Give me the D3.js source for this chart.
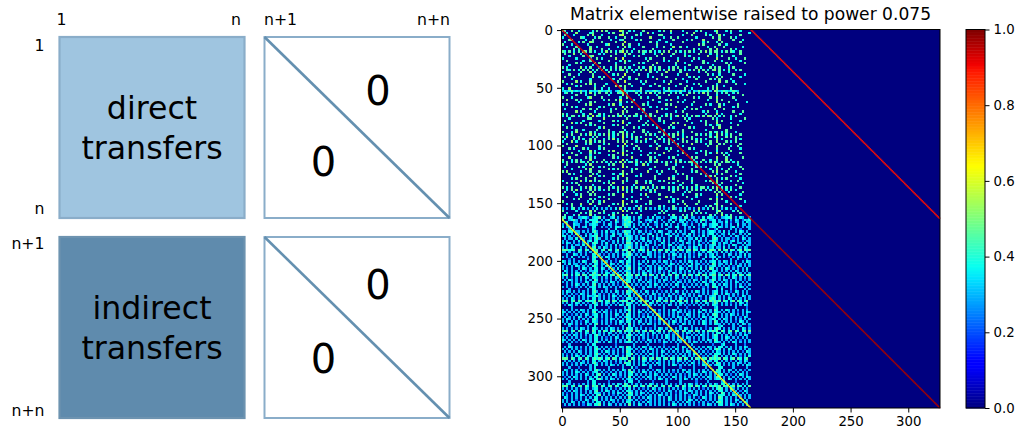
<!DOCTYPE html>
<html><head><meta charset="utf-8">
<script src="https://cdn.jsdelivr.net/npm/d3@7"></script>
<style>html,body{margin:0;padding:0;background:#fff}svg{display:block}text{font-family:"DejaVu Sans";fill:#000}</style>
</head><body><svg id="c" width="1019" height="432"></svg>
<script>
const title = "Matrix elementwise raised to power 0.075";
const matrixTicks = [0,50,100,150,200,250,300];
const colorTicks = [0,0.2,0.4,0.6,0.8,1];
const matrixSize = 328;
const blockUnit = 2;
const panelTop = [["1","n"],["n+1","n+n"]];
const panelLeftTop = ["1","n"];
const panelLeftBottom = ["n+1","n+n"];
const panelWords = [["direct","transfers"],["indirect","transfers"]];
const diagRowStart = [0,0,164,164];
const diagColStart = [0,164,0,164];
const diagLevel = [0.93,0.9,0.63,0.97];
const diagLength = 164;
const digitLevels = {2:0.24,3:0.31,4:0.38,5:0.46,6:0.52,7:0.57};
const jetStops = [[0,"#00007f"],[0.11,"#0000ff"],[0.125,"#0000ff"],[0.34,"#00e0ff"],[0.375,"#08fff0"],[0.64,"#ffff00"],[0.66,"#ffee00"],[0.89,"#ff1800"],[0.91,"#f00000"],[1,"#7f0000"]];
// Each character is one 2x2 matrix patch, read by eye: "." is zero, a digit is a colour step.
const directRows = [
"45..5..4.....4.5.6.5.....75..4.4...5......4.5..6....4.....4.5.....46...4.5...4....",
"..4...6.....45......4.5...5.5.....4..6.4.......4......5..6....4....5.....4.......4",
".5...4.....5.6...4.......67.....5.4.......55........4...5.....5.4...6.4......5....",
"4.......54....4.5...5..4...5..4.......6.....4..5..5.......4......5..5....5.4......",
"...56.....4..5.......4...45.....4.5.......4.....5.....4.5....6......6.....5...4...",
".4.....4.5..65...5.....5...7..........5..4...4......5........4.5...4.5.......5....",
"5...4......4.......46.....6..5...4.......5.....4...........6.5......5..4..........",
"..4...5.....5..4........4..6.4.....5.....4..5...6..5..4........4..5...5.......4...",
".....5.4....6....5..4.....5....4.......5.......4.........5.4....5..6.....5.4......",
"54.5.4.5.65.5.4..4.6.5.4.57.5.4..5.54.5.4.4.5.6..5.4.5.5.4..5.6.5.55.4.5.54..5....",
".5...6..4.......4.4....5...6.5.....4....4..6....5....4.....5....4..5.........5....",
"...4.....5..56.......5.....4...4.5.......5.....4.....5.4.......6...4.5....4.......",
"4.....4.....4..5.4.....6..7.........4.5.....5.....4......5.4.......6....5..4...5..",
"..5......4..5.......5....4.6.4.......5......4.4...6.....4....5....5..4.......4....",
"......5.4.....6.5......4...5.....5.4.....6.......5...4.......5.4.......5.4.....5..",
"...4.........4.........5.......4.......5.........4.....5.........4......5.........",
"5.4.....6.4.5...4.5..4.5.5.5.4...5.4..6.4.5...4.5.5..4....5.4...5.5.5...4.5.......",
"..54.5.4.5.5.4.5.6.4.5.4.56.4.5.4.5.6.5.4.5.4.6.5..5.4.4.5.6.5.4.56.5.4.5..4.5....",
"4.......5...6.4.....5.......5..4......5..4...6.....5.......4..5.....5...4.........",
"...5...4.....5........4.5..7.....5...4.....5......4...6........5.4..4.....5....4..",
".5...5.......6..4.5.......6..5.......4.4.....5.........4.5.4.......6.5.......4....",
"....4.......4....5....4..5...4..5........6.......5..4.....5.....5.4.5....4........",
"5.....6.4...5...........5..7......4.5.......4..5......4.......5.....6..5..4.......",
"..4.5.....5.6.5....4.........5.....4....5.....6....5.....4.5.......4.......5...4..",
"......4.5.....4...5....6.5.6..4.......4...5......4....5.....4....5.5..4...........",
"4..6..........5..4..4......5......5.........4.5......5..4......4.5.6.....5........",
"34345343534.4343543453.345743445345.3434543.3454343534.3.43534453.65345434543.....",
".45.4...5.4.6.4.5..5.4..546.4...5.4.5.6.4.5.5..4.5.4...5.5.4.6.5...5.4.5..4.5.....",
"......5...4...5.....4.....6.5....4.......4....5.....4.6........5...4....4.....5...",
"5...4......46....5.......4..5.....5..4....5.......4......5.4....5..6......5.......",
"..6...5.4.........4.5..5.7.....4.......5.....4.6.....4.........4...5.5.....4......",
".......4....5.5..........5..4.5......4....4.......5.4....5.........6....5.......4.",
"4.5.......5.6.......4.6..4.........5.4.......5.5........4.....5.4...5.4.....5.....",
"....5.4.........4.5.......7.5.6.......4..4.......6....5.....4.......6.....4.5.....",
".4.......5..5..5.....4.5...5.....4.5.......5.4.......4..5.5.......5...5...........",
"......6.4.....4......5....6.5......4.....6.......4..5........4.5...4......5...5...",
"5.4......4..6...5.4.....5.5.....5...4.5......4.5......5.......4....6.4.......4....",
"4.5.55.4.5.4.7.54.4.5.5.46.4.5.54.5.4.5.5..4.5.5.46.5.4.5.54.5.65.5.4.5..4.5......",
"...4.......55.....6.........5.....4.......5....4.....5.4.........5.4.....4.....5..",
".5.......4......4.....5.4.6......5...4....4.5.........5.....4.5....5.5.......4....",
"....6.4.5...5.....5.......7..4......5.......4...6.5.....4.....5....6.....4........",
"4.........5.4.5.......4.5...5......4.5.4.......5.....6........5.4..45.......5.....",
"..5.4...........4.6.......5....5.4.......4....5.4......5.4.......5..6....5........",
"......5..4.....5....5......4.......5........4.......5.........4........5.........",
"5...4.6.....5.4.....5.4..56.4..5...5.4....5.4.....4.5...5.......5.45.4.5...4......",
"..4.5...5.4.6.5.4.5.6.4.5.6.5.4.....5.5.4...5.4.5.6.4.....5.4.5.4..6.5.4.5...5....",
"5.6..4.5.....4.5....5.4...7.4.5.5.4......5.4....5...4.5.5.......5.46...5.5.5......",
".4...5.5.4..5.5...4.5.6.4.6...4.5...6.4...5.4.5...4.6...5.4.5.4....5.4.....5.4....",
"4...6.4...5.6.4.5.5.....5.6.5...4.5.4...5...4.5.4...5.5...5.4...5..6...5.4.5......",
"..5.......4.5.....4.5......7..5..........4....5...4.....6.....4.5...5.5......5....",
"5.....6.........5.......4.6.4...5.....4...5.......5.4..........5...6.....4..5.....",
"...5.4...5.4....4.5.......5....4.5.......6...4.5.......5.4.........5....5....4....",
".......4....6.4.....5.6...5.5.....4...........5...4.5.......4.5....4.....5........",
"..4.5...4...5.5.4.......5.7...4.......4.5...6.......5.....4...5.4..6.5.4.....5....",
"4.....5.....4.......4.5...6.5.....4..5....4.......4...6.......5.......5.4.........",
"...6......5.5.4.......5.4.....6.......5.4.....4.5.......5.5........6...5......5...",
"5...4.5.4...6.....5.......7.4...4.....5..6.......5.4.....4...5..4..5...6.4........",
"4.5.4.5.54.5.4.5.5.4.5.4.6.5.45.5.4.5.4.55.4.5.4.6.5.4.55.4.5.4.5.64.5.55.4.5.....",
"..5.......4.6.......4.5...6.....4..6.4.......5...4......4.5.......5.5.......4.....",
".4.....5.4...5..4.5.......7.5...........5.......5...4.....5.4.5....6.....4...5....",
"....4.....5.6.......5.4.5.....4.5.....4.......4.5.......5.......4..5.4..5.....5...",
"5.6.....4...5...5.........6...5......6...4.5.....5......4.5......5.6...5...4......",
"...5.4.......5.4......4..46.5.....4.......4.......4.5.......5.4....4.5.......5....",
"........5...6...4.5.....5.7.....4.5.....5.......4.....5.......4.5.6......5.4......",
"....4.5...5...5.......4.5...5...........5.....6.5.....5.4..........5.4.5.....4....",
"4.......6.4.6.4.5...4.....6.4...5...4.5...4.5.....5.....5.....4.5..6.....4..5.....",
"..5.4.5...........4.5.6...5.....6...5.4.......5.4...5...4........5.5.5........4...",
".......5.....4.......5.........4.......5...........4......5.........4......5......",
"5.4.5...4.5.6.4.5...5.4.5.7.5.4.5.46.5.4.5.54.5.4.5.5.4.5.4.55.4.5.6.4.5.4...5....",
"..4.5.6.4...5.5.4.4.5...5.6.4.5...5.4.4.6.....5.4.5...4.5.5.4.5.4..6.5.4.5.4......",
".5...4.....5.6..........4...5.4.......5.4.......5....4.5..........5.5...4.....5...",
"4.....4.5...5.5.....4.5...7.......4.6.....5.........4.....5.4......6.5.......4....",
"..5.....6.......4.5.......6...4......4.......6.4......5...4........4.....5.4......",
".....4.5....5.4.....5.......4.....5.......5.....4.5.....4.......5..6.5.......5....",
"5..........4.5..4.6.......7...5.4.....5.......5.4...5......5.......5...4.......4..",
"..4.5...6...6...5.....4.5.6.5.......4.5...........4..6....5.......46.....5........",
"....5...4.....4.....5.....6.....4.5.......5.4...5.....5.......4.5..5.5.......4....",
"3.3.45.3.4.3.3.4.3.3.3.4.6.3.4.3.63.5.3.3.4.3.3.53.3.4.3.3.6.3.4.5.5.3.4.3.3......",
"5.....4.....6.5...5.......7.5.....4........5.4.....4.5...5.4.......46.....4.5.....",
"..4.....5.4.5...5.4...4.5.....5.4.........4.5...........5.4.5.4....5.5.......5....",
".5...4.5....6.4.....4.5...6.4.....5.....4.....4.5...5.4.5.......5.4..6.4.5........",
"..........4..........5.................4.............5...................5...4.....",
"....5.......4..........5.........4.........5.........4.......5...........4.....4.."
];
const indirectRows = [
"54.43..334.2.3445.3..34.3.4454.3.43..3.4.33.2..344.3..4.33.2.4.443.2.3344..3.43..3",
"4..3453.3.3..444.3.34...2.3544.3.3..3342.3.3..34.3.43..3.33.4.3.344.3..3.3.43.2.34",
".34..33.2.43.4453.3..3.43.34453..34.2.3.43..3.3.4..34.3.2.3.4.3..44.33.4.2.33.3.43",
"3.3..433..3.3443..3.43.3..3544.3.3.3.4..23.3.4.3..3.342.3..3.43.3444.3.3.3..4.33.3",
"4.33.4.3.34..44..3.2.3.443.453.4..3.3.3..4.3..33.44..3.3.4.2.3..344.43.3.34.3.3.33",
"...3.3.....2.43.....3..4......3.3...2..4.....3....3..3.2...3...4..24.....3.3.2...3",
"33.44.33.3.3.453.3.4.33.3.3544.3.43.3.2.3.43..33.4.3.3..43.3.3.3443.3.4.3..3.43.3.",
"3.3.3.43..3.3.44.3.3..4.33.453.3.2.3.34..3.3.43.3.3.33.4.3.2.3.344.3.33.4.3..3.3.4",
"44.3.2..3.4.3445.3.3.34..3.3443.3.3..3.4.3.3..34.33.2.43.3.3.4.3.44.3.3..3.43.3.3.",
".3.33.4.33..3.453..3.3..3.4.543.3.34.3.2.43.3.3..4.3.3.33.4.3.3..454.3.33.2.3.43.3",
"3.3..3.4.3.34.44.33.2.3.4.3.44.3.3.3.43.3.3.4.3..3.43..3.3.43.3.3443.3.3.34.3.2.33",
"3.43.3.2.3.3.454.3.4..3.3.3.553.4.3.3.3.3..43.3.3.2.3.43.3.3.2.3.54.3.43.3..33.4.3",
"..3.3.33.4.3.34..3.3.3.4.3.3443.3.3.43..3.3.3.44.3.33..2.3.43.3.344.3.3.3.43..3.33",
"3.3.43..3.3..45.3.43.3.3.2.3453.3.43.3.3.2..3.3.3.43.3.3.43.3.3.34.33.4.3..3.3.43.",
"555445.54.54.545.45.54.45.545.54.454.5.45.54.54.45.54.45.54.454.554.5.45.54.45.545",
"33.3.2.43.3.3.45.3.3.2.43.3.45.3.3.3.43.3.3..4.33.3.2.43.3.3.3.44.33.4.3.3.2.43.3",
"..3..43.3.3..44.3.2.3.3.3.43453.3.3..43.3.2.3.3.43.3.3.3.2.43.3.34.3..3.43.3.3.4.3",
"3.3.4..3.3.2.453.3.43.3.3.3.54.3.3.43.3.3.3.4.2.3.33.4.3.3.3..4.344.3.3.2.3.43.3.3",
"...2.3.....3.44.....3..2...3.4.3....3.....2...3.3....3.2.....3...3.4.....3..3...2.",
"43.3.3.3.43..454.3.3.3.2.43.44.3.3.3.4.33.3.43.3.2.3.3.43.3.3.3.344.3.43.3.3..3.43",
".3.4.33.2.3.3.44.33..43.3.3.53.3.43.3..3.3.2.3.43.3.3.3.4.33.2.3.54.33.3.4.3.3.3.3",
"3.2.3.43.3.3.453.3.4.3.3.3.344.3.3.2.43.3.3.3.43.3.3.2.43.3.3.3.344.3.3.3.2.43.3.3",
"3.3.3..3.43.3.44.43.3.3.4.3.45.3.43.3.3.3.43.3.3.3.43.3.3.3.4.3.54.3.3.43.3.3.3.4.",
".43.3.3.3.2.3344.3.3.3.2.3.343.3.3.3.43.3.3.2.43.3.3.3.4.3.3.3.3.443.3.3.3.43.3.3.",
"3.3.3.43.3.3.453.3.43.3.3.3.54.3.3.43.3.2.3.3.3.43.3.3.2.3.43.3.344.3.2.3.3.43.3.3",
"455.4.45.54.45445.54.45.54.4545.54.45.54.4.54.45.54.45.54.45.54.455.45.54.45.54.45",
"3.3.2.3.3.43.443.3.3.3.43.3.443.3.3.3.2.43.3.3.3.43.3.3.3.2.3.43.44.3.3.3.43.3.3.3",
".3.43.3.3.3.3.54.3.2.3.3.3.354.3.43.3.3.3.3.43.3.3.2.3.3.43.3.3.354.3.43.3.3.3.2.3",
"3.3.3.3.2.43.443.3.3.43.3.3.44.3.3.3.43.3.3.3.2.3.43.3.3.3.3.43.34.3.3.3.3.43.3.3.",
"..3.3.43.3.3.45.3.3.3.3.2.3.4.3.3.3.3.3.43.3.3.3.43.3.2.3.3.3.43.44.3.43.3.3.3.2.3",
"3.3.2.3.3.3.344.3.43.3.3.3.443.3.2.3.43.3.3.3.2.3.3.43.3.3.3.2.3.544.3.3.3.3.43.3.",
"...3...2...3.44....3...3.....3.4...3......2....3.....3.......3.2...3.4...3.2...3.3",
"3.43.3.3.3.3.453.3.3.3.43.3.543.3.3.43.3.3.2.3.3.43.3.3.3.43.3.3.344.3.3.2.43.3.3.",
"3.3.3.2.43.3.44.3.2.3.3.3.3.44.3.3.3.3.43.3.3.3.3.2.43.3.3.2.3.3.354.3.43.3.3.3.3.",
".3.3.3.3.3.433453.3.3.43.3.3.5.3.43.3.3.3.2.3.43.3.3.3.3.3.43.3.344.3.3.3.3.2.43.3",
"3.3.43.3.3.3.44.3.3.3.3.3.2.443.3.3.2.3.3.43.3.3.3.43.3.3.3.2.3.454.3.3.43.3.3.3.3",
"555.45.54.45445.54.45.54.4545.54.45.54.4.54.45.54.45.54.4.54.45.54545.54.45.54.45.",
"3.3.3.43.3.2.453.3.43.3.3.3.443.3.3.3.43.3.3.2.3.3.43.3.3.3.3.43.354.3.3.2.3.43.3.",
".2.43.3.3.3.3.44.3.3.3.3.43.54.3.3.43.3.3.3.3.43.3.3.3.2.3.3.3.3.443.3.3.3.3.3.43.",
"....3.......3.4.....2......3.4.3.....2......3.....3...2.....3.....34.......3....2.",
"3.3.3.3.43.3.443.3.3.2.3.3.345.3.3.3.3.43.3.3.3.43.3.3.2.3.3.43.3.54.3.43.3.3.3.3.",
"43.3.3.3.3.3.45.3.43.3.3.3.3.4.3.43.3.3.3.2.3.3.3.43.3.3.3.43.3.3.443.3.3.3.2.3.43",
"3.3.2.3.3.43.344.3.3.3.43.3.54.3.3.2.3.3.43.3.3.3.3.2.43.3.3.3.3.454.3.3.43.3.3.3.",
".3.3.3.43.3.3.44.3.3.3.3.3.344.3.3.3.43.3.3.3.2.3.43.3.3.3.3.43.3.44.3.3.3.3.2.43.",
"3.43.3.3.3.3.453.2.3.43.3.3.543.3.3.3.3.3.43.3.3.3.3.43.3.2.3.3.344.3.43.3.3.3.3.3",
"3.3.3.3.2.43.443.3.3.3.3.43.44.3.43.3.3.2.3.3.3.43.3.3.3.3.3.43.3.54.3.3.3.2.43.3.",
".3.43.3.3.3.3.45.3.3.2.3.3.3.5.3.3.3.43.3.3.3.3.3.2.43.3.3.3.43.3.443.3.3.3.3.43.3",
"...3..2....3..4.....3.....3..4.3..2.....3.....2....3....3.....2.....34....3..3...2.",
"3.3.3.3.43.3.443.3.3.43.3.3.544.3.3.3.2.3.43.3.3.3.3.43.3.3.3.2.3.454.3.3.3.3.43.3",
"555.45.54.45.54.4.54.45.54.5445.54.45.54.45.4.54.45.54.45.54.4.54545.54.45.54.45.5",
"3.2.3.3.3.43.44.3.3.43.3.3.3.4.3.3.3.3.43.3.3.3.2.3.3.43.3.3.3.3.3.44.3.43.3.3.3.3",
".3.3.43.3.3.3.453.3.3.3.3.2.453.3.43.3.3.3.3.43.3.3.3.2.3.3.43.3.354.3.3.3.2.3.43.",
"3.3.3.3.3.2.3.44.3.2.3.43.3.44.3.3.3.3.2.3.3.43.3.3.3.43.3.3.3.3.344.3.43.3.3.3.3.",
"43.3.3.3.43.3.44.3.3.3.3.3.3.5.3.3.2.43.3.3.3.3.3.43.3.3.2.3.3.43.54.3.3.3.3.2.3.3",
"3.3.3.2.3.3.3.453.3.43.3.3.3443.3.3.3.3.3.2.43.3.3.3.3.3.43.3.3.3.443.3.3.43.3.3.3",
"...3.......3.44........2.......3.....3......2.....3.....3........2...34....3...2..",
".3.43.3.3.3.3.44.3.3.3.3.43.54.3.3.43.3.3.3.3.2.3.3.43.3.3.3.3.43.3.44.3.3.3.3.43.",
"3.3.3.3.2.3.3.453.3.3.2.3.3.443.3.3.3.43.3.3.3.3.43.3.3.2.3.3.3.3.454.3.43.3.3.3.3",
".3.3.3.43.3.3.44.3.43.3.3.3.54.3.2.3.3.3.3.43.3.3.3.3.43.3.3.3.2.3.43.3.3.3.3.2.43",
"3.2.3.3.3.3.3.453.3.3.3.3.2.445.3.3.3.43.3.3.3.2.3.3.3.3.43.3.3.3.444.3.3.43.3.3.3",
"3.3.3.43.3.43.44.3.3.3.43.3.54.3.3.3.3.3.3.43.3.3.3.43.3.3.3.2.3.354.3.3.3.3.2.3.4",
"555.54.45.54.45454.45.54.4545.54.4.54.45.54.45.54.45.54.4.54.45.54545.54.45.54.45.",
".3.3.3.3.3.3.44.3.43.3.3.3.3.5.3.3.43.3.2.3.3.3.3.43.3.3.3.3.3.43.44.3.3.2.3.3.43.",
"3.3.2.3.43.3.453.3.3.3.2.3.544.3.3.3.3.3.43.3.3.3.2.3.3.43.3.3.3.3.54.3.3.3.43.3.3",
"3.3.3.3.3.3.3.44.3.3.43.3.3.44.3.3.43.3.3.3.3.3.43.3.3.3.3.2.43.3.344.3.3.3.3.3.43",
"...3...2....3.4.....3.....3...4.2.....3.....3......2.....3....3.....44....3.....3.",
".43.3.3.3.2.3.453.3.3.3.3.43.5.3.3.3.3.2.43.3.3.3.3.43.3.3.3.3.3.3.54.3.43.3.3.2.3",
"3.3.3.43.3.3.344.3.2.3.3.3.3.453.3.43.3.3.3.3.3.2.3.3.43.3.3.43.3.344.3.3.3.3.3.3.",
"3.3.3.3.3.43.3.45.3.3.43.3.3.44.3.3.3.3.43.3.3.3.3.3.2.3.43.3.3.3.3.44.3.2.3.43.3.",
".2.3.43.3.3.3.44.3.3.3.3.2.3.5.3.3.3.43.3.3.3.2.43.3.3.3.3.3.3.43.354.3.3.3.3.3.43",
"3.3.3.3.3.3.43.453.3.43.3.3.343.3.2.3.3.3.43.3.3.3.3.43.3.3.2.3.3.344.3.43.3.3.3.3",
"...3.......3.44.....2......3.44..3.....2.....3.....3......2....3.....34....2....3.",
"3.43.3.2.3.3.44.3.3.3.3.43.54.3.3.3.3.43.3.3.3.3.2.3.3.43.3.3.3.3.43.44.3.3.3.3.3.",
"555.45.45.54.545.54.45.54.4545.54.45.45.54.45.54.45.54.45.54.45.54545.54.45.54.4.5",
"3.3.3.3.3.43.344.3.3.3.2.3.3.4.3.3.2.3.43.3.3.3.3.3.43.3.3.3.2.3.3.454.3.43.3.3.3.",
".3.3.43.3.3.3.45.3.43.3.3.3.443.3.3.3.3.3.2.3.43.3.3.3.43.3.3.3.3.3.44.3.3.3.2.43.",
"3.2.3.3.3.3.3.443.3.3.3.43.3.54.3.43.3.3.3.3.3.3.2.3.43.3.3.3.3.43.3.54.3.3.3.3.3.",
"3.3.3.3.43.3.3.45.3.3.2.3.3.344.3.3.3.3.3.43.3.3.3.3.3.2.43.3.3.3.3.444.3.43.3.3.3",
".43.3.3.3.3.3.44.3.3.3.3.3.3.5.3.3.3.43.3.3.3.43.3.3.3.3.3.2.43.3.3.54.3.3.3.2.3.3",
"3.3.3.2.3.43.354.3.3.43.3.3.343.3.2.3.3.3.3.3.43.3.3.3.43.3.3.3.3.3.44.3.3.43.3.3.",
"3.3.43.3.3.3.3.44.3.3.3.2.3.44.3.3.3.43.3.3.3.2.3.3.3.43.3.3.3.2.3.454.3.3.3.3.43.",
".3.3.3.3.2.43.445.3.43.3.3.3.5.3.43.3.3.3.3.3.3.43.3.3.3.3.2.3.43.3.44.3.43.3.3.3."
];

const svg = d3.select("#c");
const jet = d3.scaleLinear().domain(jetStops.map(d=>d[0])).range(jetStops.map(d=>d[1])).interpolate(d3.interpolateRgb).clamp(true);

// Left panels
const px = d3.scaleBand().domain([0,1]).range([59.5,449.5]).paddingInner(20/205).paddingOuter(0);
const py = d3.scaleBand().domain([0,1]).range([37,418]).paddingInner(0.095).paddingOuter(0);
const boxFill = ["#9fc5e0","#5f8bad"];
const boxStroke = ["#8aadc9","#6d93b0"];
const zeroUpperY = [53,47];
const zeroLowerY = [124,121];
[0,1].forEach(r=>{
  const x=px(0),y=py(r),w=px.bandwidth(),h=py.bandwidth();
  svg.append("rect").attr("x",x).attr("y",y).attr("width",w).attr("height",h).attr("fill",boxFill[r]).attr("stroke",boxStroke[r]).attr("stroke-width",2.2);
  const t=svg.append("text").attr("font-size",31.6).attr("text-anchor","middle");
  panelWords[r].forEach((s,i)=>t.append("tspan").attr("x",x+w/2).attr("y",y+h/2+(i?31:-9)).text(s));
  const X=px(1);
  svg.append("rect").attr("x",X).attr("y",y).attr("width",w).attr("height",h).attr("fill","#fff").attr("stroke","#8aadc9").attr("stroke-width",2);
  svg.append("line").attr("x1",X).attr("y1",y).attr("x2",X+w).attr("y2",y+h).attr("stroke","#6490b0").attr("stroke-width",2.6);
  svg.append("text").attr("x",X+w*0.61+0.7).attr("y",y+zeroUpperY[r]+14.5).attr("font-size",40).attr("text-anchor","middle").text("0");
  svg.append("text").attr("x",X+w*0.315+0.7).attr("y",y+zeroLowerY[r]+14.5).attr("font-size",40).attr("text-anchor","middle").text("0");
});
const small=(x,y,s,a)=>svg.append("text").attr("x",x).attr("y",y).attr("font-size",15.7).attr("text-anchor",a).text(s);
small(61.5,24.5,panelTop[0][0],"middle");small(236,24.5,panelTop[0][1],"middle");
small(280.5,24.5,panelTop[1][0],"middle");small(433.5,24.5,panelTop[1][1],"middle");
small(44.5,50.5,panelLeftTop[0],"end");small(44.5,214,panelLeftTop[1],"end");
small(44.5,249,panelLeftBottom[0],"end");small(44.5,416,panelLeftBottom[1],"end");

// Matrix
const mx = d3.scaleLinear().domain([-0.5,matrixSize-0.5]).range([561.5,940]);
const my = d3.scaleLinear().domain([-0.5,matrixSize-0.5]).range([29.5,408]);
const g = svg.append("g").attr("shape-rendering","crispEdges");
g.append("rect").attr("x",mx(-0.5)).attr("y",my(-0.5)).attr("width",mx(matrixSize-.5)-mx(-.5)).attr("height",my(matrixSize-.5)-my(-.5)).attr("fill",jet(0));
const cells=[];
const addRows=(rows,r0)=>rows.forEach((row,i)=>row.slice(0,82).split("").forEach((c,j)=>{ if(c!==".") cells.push({r:r0+i*blockUnit,c:j*blockUnit,v:digitLevels[c]}); }));
addRows(directRows,0);
addRows(indirectRows,162);
g.selectAll(".cell").data(cells).join("rect").attr("class","cell")
 .attr("x",d=>mx(d.c-.5)).attr("y",d=>my(d.r-.5))
 .attr("width",d=>mx(d.c+blockUnit-.5)-mx(d.c-.5)).attr("height",d=>my(d.r+blockUnit-.5)-my(d.r-.5))
 .attr("fill",d=>jet(d.v));
diagLevel.forEach((lev,k)=>{
  svg.append("g").selectAll("rect").data(d3.range(diagLength)).join("rect")
   .attr("x",i=>mx(diagColStart[k]+i-.7)).attr("y",i=>my(diagRowStart[k]+i-.7))
   .attr("width",mx(1.4)-mx(0)).attr("height",my(1.4)-my(0)).attr("fill",jet(lev));
});
const axB=svg.append("g").attr("transform",`translate(0,${my(matrixSize-.5)})`).call(d3.axisBottom(mx).tickValues(matrixTicks).tickSize(4.5).tickPadding(4).tickFormat(d3.format("d")));
const axL=svg.append("g").attr("transform",`translate(${mx(-.5)},0)`).call(d3.axisLeft(my).tickValues(matrixTicks).tickSize(4.5).tickPadding(4).tickFormat(d3.format("d")));
[axB,axL].forEach(a=>{a.selectAll("text").attr("font-size",13.3).attr("font-family","DejaVu Sans");a.select(".domain").remove();a.selectAll("line").attr("stroke","#000").attr("stroke-width",1);});
svg.append("rect").attr("x",mx(-.5)).attr("y",my(-.5)).attr("width",mx(matrixSize-.5)-mx(-.5)).attr("height",my(matrixSize-.5)-my(-.5)).attr("fill","none").attr("stroke","#000").attr("stroke-width",1);
svg.append("text").attr("x",750.5).attr("y",20).attr("font-size",17.1).attr("text-anchor","middle").text(title);

// Colorbar
const cy=d3.scaleLinear().domain([0,1]).range([408,29.5]);
const cbx=966,cbw=19;
svg.append("g").selectAll("rect").data(d3.range(256)).join("rect")
 .attr("x",cbx).attr("width",cbw).attr("y",d=>cy((d+1)/256)).attr("height",d=>cy(d/256)-cy((d+1)/256)+.5).attr("fill",d=>jet((d+.5)/256));
svg.append("rect").attr("x",cbx).attr("y",cy(1)).attr("width",cbw).attr("height",cy(0)-cy(1)).attr("fill","none").attr("stroke","#000").attr("stroke-width",1);
const axC=svg.append("g").attr("transform",`translate(${cbx+cbw},0)`).call(d3.axisRight(cy).tickValues(colorTicks).tickSize(4.5).tickPadding(4).tickFormat(d3.format(".1f")));
axC.selectAll("text").attr("font-size",13.3).attr("font-family","DejaVu Sans");axC.select(".domain").remove();axC.selectAll("line").attr("stroke","#000");
</script></body></html>
